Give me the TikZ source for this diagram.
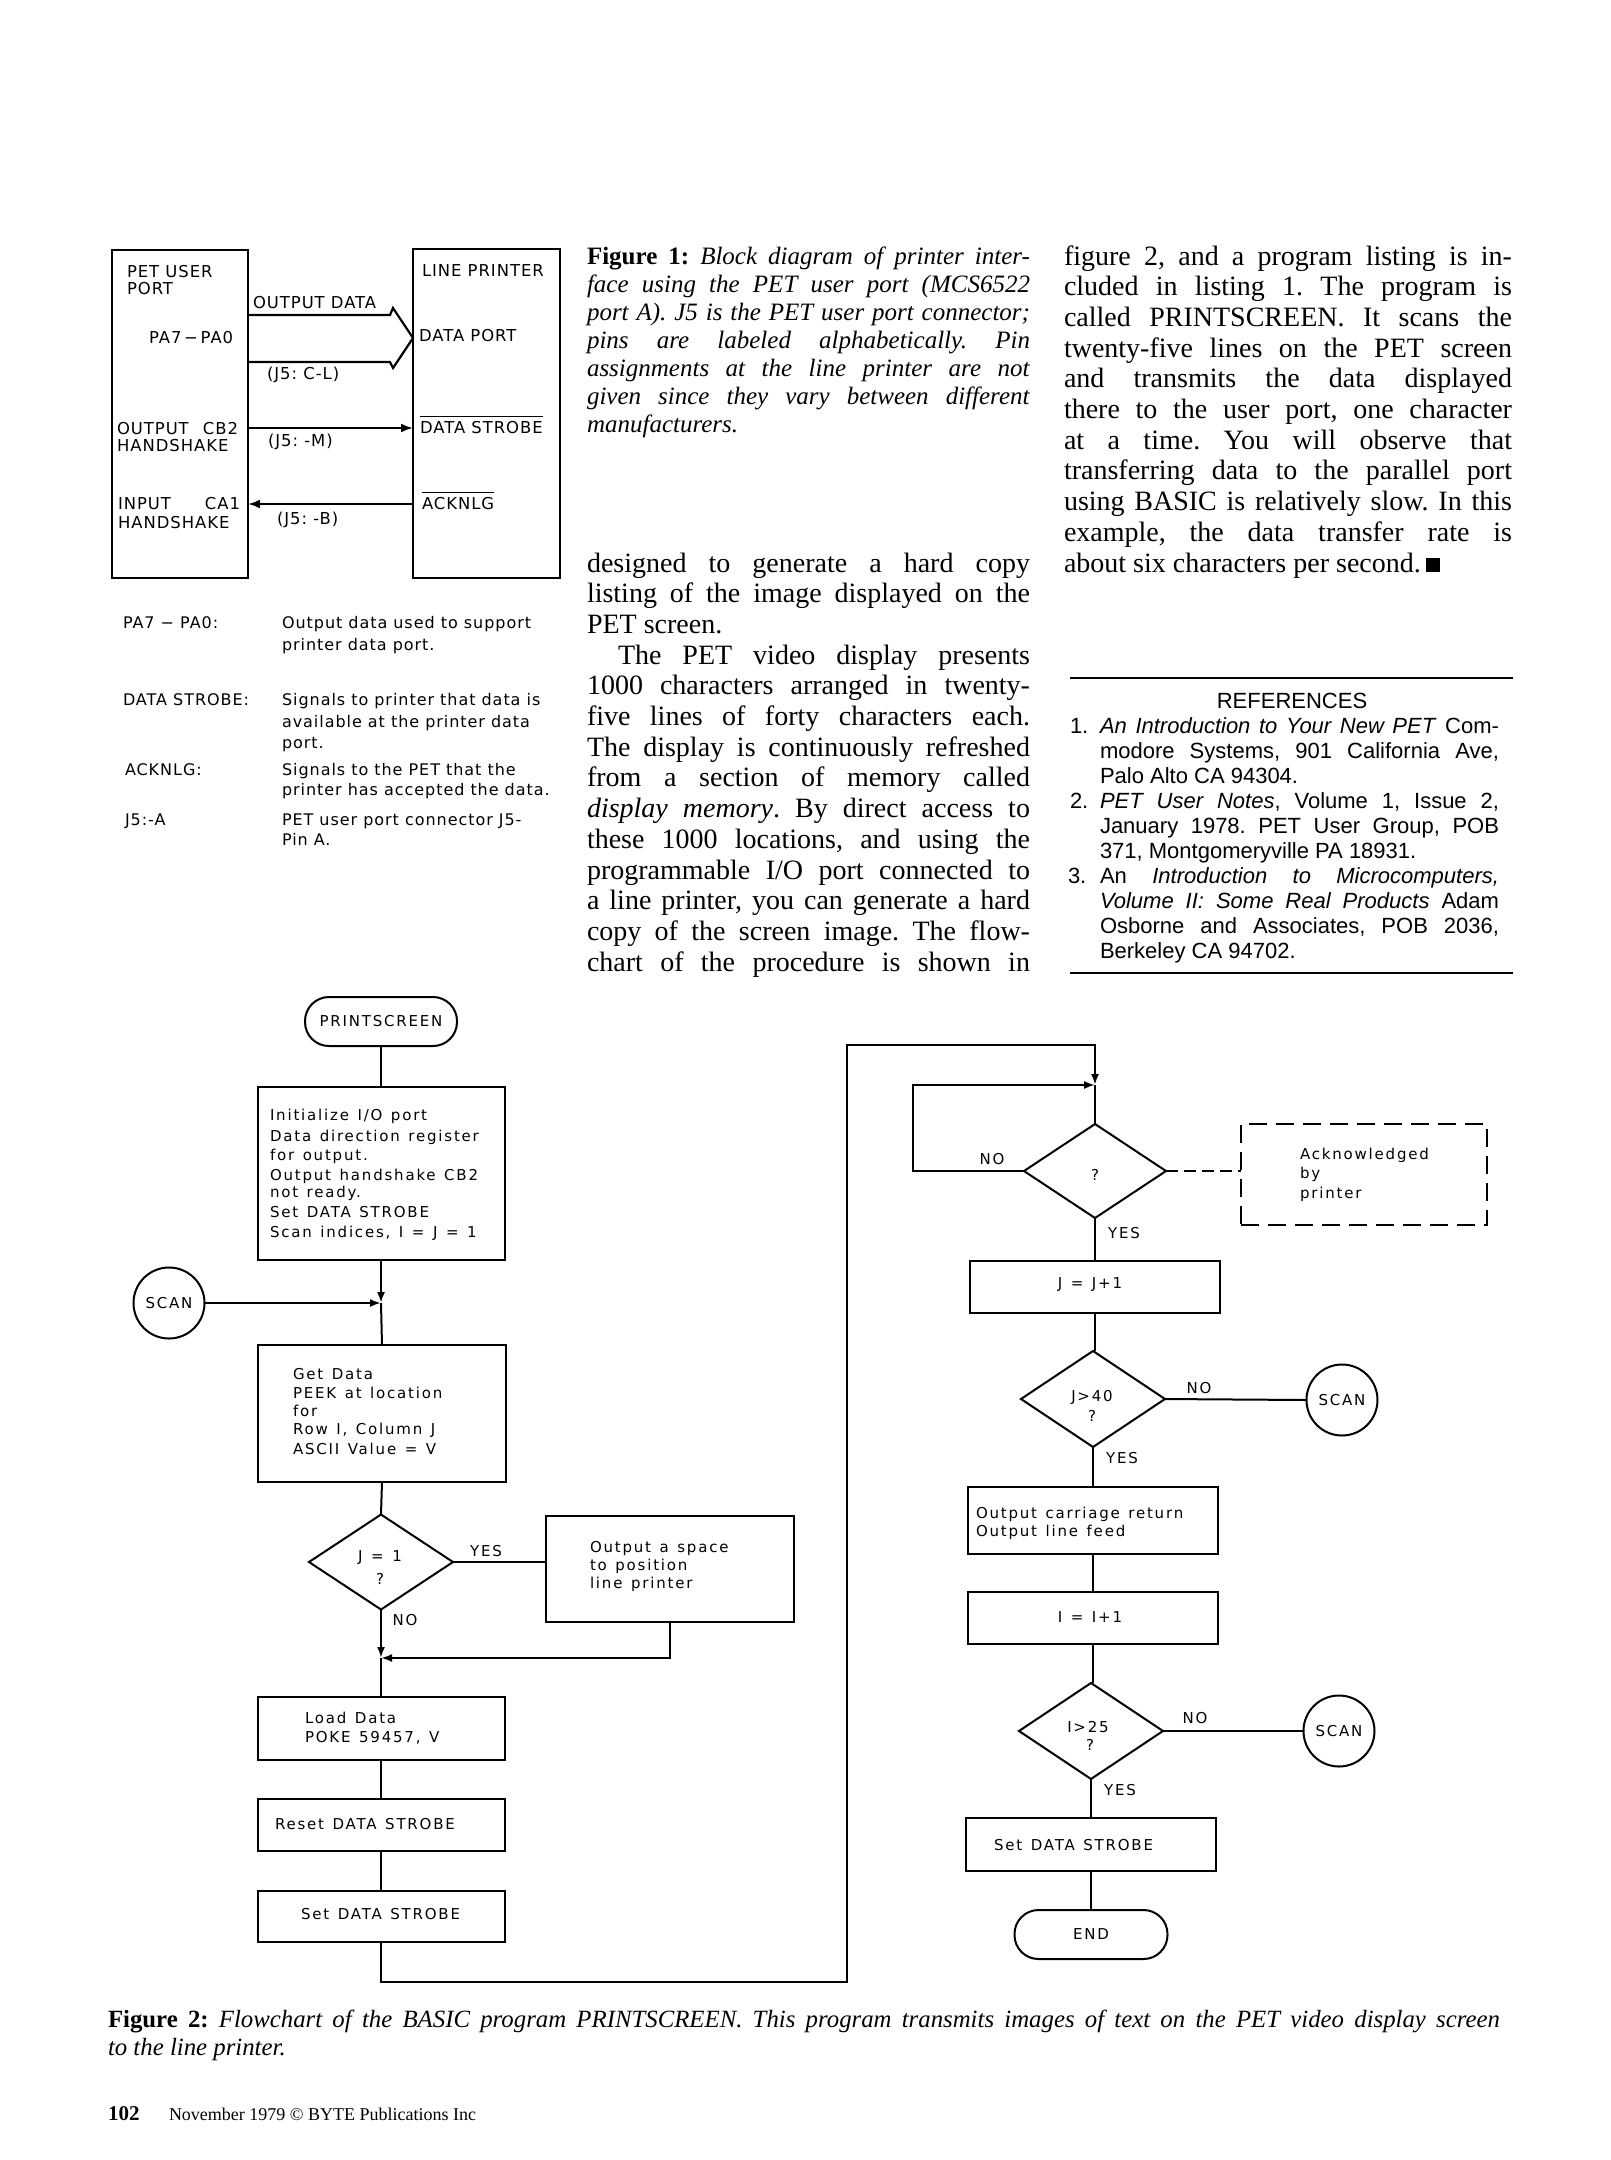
\documentclass[tikz,border=0pt]{standalone}
\usepackage{fontspec}
\setmainfont{Liberation Serif}
\newfontfamily\lettA[LetterSpace=6]{DejaVu Sans}
\newfontfamily\lettB[LetterSpace=12,WordSpace=1.3]{DejaVu Sans}
\newfontfamily\refsf{Liberation Sans}
\usetikzlibrary{shapes.geometric,arrows.meta}
\newcommand{\figfont}{\lettA\fontsize{8.2}{10}\selectfont}
\newcommand{\legfont}{\lettA\fontsize{8}{10}\selectfont}
\newcommand{\flfont}{\lettB\fontsize{7.5}{9}\selectfont}
\newcommand{\bodyfont}{\rmfamily\fontsize{14}{17}\selectfont}
\newcommand{\capfont}{\rmfamily\fontsize{12.5}{15}\selectfont}
\newcommand{\reffont}{\refsf\fontsize{11}{13}\selectfont}
\newcommand{\jmid}[1]{\makebox[221.5pt][s]{#1}}
\newcommand{\jind}[1]{\makebox[206pt][s]{#1}}
\newcommand{\jrt}[1]{\makebox[224pt][s]{#1}}
\newcommand{\jref}[1]{\makebox[199.5pt][s]{#1}}
\frenchspacing
\begin{document}
\begin{tikzpicture}[x=0.5pt,y=-0.5pt,
  every node/.style={inner sep=0pt, outer sep=0pt},
  blk/.style={draw, line width=1.1pt, rectangle},
  fbox/.style={draw, line width=1pt, rectangle},
  term/.style={draw, line width=1pt, rectangle, rounded corners=12pt, font=\flfont},
  dia/.style={draw, line width=1pt, diamond},
  conn/.style={draw, line width=1pt, circle, minimum size=35.5pt, font=\flfont},
  ft/.style={anchor=base west, font=\flfont},
  fc/.style={anchor=center, font=\flfont},
  gt/.style={anchor=base west, font=\figfont},
  legt/.style={anchor=base west, font=\legfont},
  bt/.style={anchor=base west, font=\bodyfont},
  ct/.style={anchor=base west, font=\capfont},
  rt/.style={anchor=base west, font=\reffont},
  arr/.style={line width=1pt, -{Latex[length=5.5pt,width=4pt]}},
  arrA/.style={line width=1.1pt, -{Latex[length=6pt,width=4.5pt]}},
  rule/.style={line width=0.6pt}
]
\fill[white] (0,0) rectangle (1611,2160);
\useasboundingbox (0,0) rectangle (1611,2160);

%% ---------------- Figure 1 block diagram
\node[blk, minimum width=68pt, minimum height=164pt] (pet) at (180,414) {};
\node[blk, minimum width=73.5pt, minimum height=164.5pt] (lp) at (486.5,413.5) {};
\node[gt] (petA) at (127,277) {PET USER};
\node[gt] (petB) at (127,294) {PORT};
\node[gt] (od) at (253,308) {OUTPUT DATA};
\node[gt] (pa) at (149,343) {PA7\,−\,PA0};
\node[gt] (jcl) at (267,379) {(J5: C-L)};
\node[gt] (dp) at (419,341) {DATA PORT};
\node[gt] (lpl) at (422,276) {LINE PRINTER};
\node[gt] (cb2) at (117,434) {\makebox[60.5pt][s]{OUTPUT CB2}};
\node[gt] (hsA) at (117,451) {HANDSHAKE};
\node[gt] (jm) at (268,446) {(J5: -M)};
\node[gt] (ds) at (420,433) {DATA STROBE};
\node[gt] (ca1) at (118,509) {\makebox[61pt][s]{INPUT CA1}};
\node[gt] (hsB) at (118,528) {HANDSHAKE};
\node[gt] (jb) at (277,524) {(J5: -B)};
\node[gt] (ak) at (422,509) {ACKNLG};
\draw[line width=0.7pt] ([yshift=2.2pt]ds.north west) -- ([yshift=2.2pt]ds.north east);
\draw[line width=0.7pt] ([yshift=2.2pt]ak.north west) -- ([yshift=2.2pt]ak.north east);
\draw[line width=1.1pt] (pet.east |- 0,315) -- (390,315) -- (393,308) -- (lp.west |- 0,338)
   -- (393,368) -- (390,362) -- (pet.east |- 0,362);
\draw[arrA] (pet.east |- 0,428) -- (lp.west |- 0,428);
\draw[arrA] (lp.west |- 0,504) -- (pet.east |- 0,504);

%% legend
\node[legt] (lgA) at (123,628.5) {PA7 − PA0:};
\node[legt] (lgA1) at (282,628.5) {Output data used to support};
\node[legt] (lgA2) at (282,650.5) {printer data port.};
\node[legt] (lgB) at (123,705.5) {DATA STROBE:};
\node[legt] (lgB1) at (282,705.5) {Signals to printer that data is};
\node[legt] (lgB2) at (282,727) {available at the printer data};
\node[legt] (lgB3) at (282,748.5) {port.};
\node[legt] (lgC) at (125,775.5) {ACKNLG:};
\node[legt] (lgC1) at (282,775.5) {Signals to the PET that the};
\node[legt] (lgC2) at (282,795.5) {printer has accepted the data.};
\node[legt] (lgD) at (125,825.5) {J5:-A};
\node[legt] (lgD1) at (282,825.5) {PET user port connector J5-};
\node[legt] (lgD2) at (282,845.5) {Pin A.};

%% ---------------- Figure 1 caption
\node[ct] (cap1) at (587,264) {\jmid{\textbf{Figure 1:} \textit{Block diagram of printer inter-}}};
\node[ct] (cap2) at (587,292) {\jmid{\textit{face using the PET user port (MCS6522}}};
\node[ct] (cap3) at (587,320) {\jmid{\textit{port A). J5 is the PET user port connector;}}};
\node[ct] (cap4) at (587,348) {\jmid{\textit{pins are labeled alphabetically. Pin}}};
\node[ct] (cap5) at (587,376) {\jmid{\textit{assignments at the line printer are not}}};
\node[ct] (cap6) at (587,404) {\jmid{\textit{given since they vary between different}}};
\node[ct] (cap7) at (587,432) {\textit{manufacturers.}};

%% ---------------- middle column body
\node[bt] (m0) at (587,572) {\jmid{designed to generate a hard copy}};
\node[bt] (m1) at (587,602.7) {\jmid{listing of the image displayed on the}};
\node[bt] (m2) at (587,633.4) {PET screen.};
\node[bt] (m3) at (618,664.1) {\jind{The PET video display presents}};
\node[bt] (m4) at (587,694.8) {\jmid{1000 characters arranged in twenty-}};
\node[bt] (m5) at (587,725.5) {\jmid{five lines of forty characters each.}};
\node[bt] (m6) at (587,756.2) {\jmid{The display is continuously refreshed}};
\node[bt] (m7) at (587,786.9) {\jmid{from a section of memory called}};
\node[bt] (m8) at (587,817.6) {\jmid{\textit{display memory}. By direct access to}};
\node[bt] (m9) at (587,848.3) {\jmid{these 1000 locations, and using the}};
\node[bt] (m10) at (587,879) {\jmid{programmable I/O port connected to}};
\node[bt] (m11) at (587,909.7) {\jmid{a line printer, you can generate a hard}};
\node[bt] (m12) at (587,940.4) {\jmid{copy of the screen image. The flow-}};
\node[bt] (m13) at (587,971.1) {\jmid{chart of the procedure is shown in}};

%% ---------------- right column body
\node[bt] (r0) at (1064,265) {\jrt{figure 2, and a program listing is in-}};
\node[bt] (r1) at (1064,295.7) {\jrt{cluded in listing 1. The program is}};
\node[bt] (r2) at (1064,326.4) {\jrt{called PRINTSCREEN. It scans the}};
\node[bt] (r3) at (1064,357.1) {\jrt{twenty-five lines on the PET screen}};
\node[bt] (r4) at (1064,387.8) {\jrt{and transmits the data displayed}};
\node[bt] (r5) at (1064,418.5) {\jrt{there to the user port, one character}};
\node[bt] (r6) at (1064,449.2) {\jrt{at a time. You will observe that}};
\node[bt] (r7) at (1064,479.9) {\jrt{transferring data to the parallel port}};
\node[bt] (r8) at (1064,510.6) {\jrt{using BASIC is relatively slow. In this}};
\node[bt] (r9) at (1064,541.3) {\jrt{example, the data transfer rate is}};
\node[bt] (r10) at (1064,572) {about six characters per second.\,\rule{7pt}{7pt}};

%% ---------------- references
\draw[rule] (1070,678) -- (1513,678);
\draw[rule] (1070,973) -- (1513,973);
\node[anchor=base, font=\reffont] (refh) at (1292,708) {REFERENCES};
\node[rt] (n1) at (1070,733) {1.};
\node[rt] (ra) at (1100,733) {\jref{\textit{An Introduction to Your New PET} Com-}};
\node[rt] (rb) at (1100,758.1) {\jref{modore Systems, 901 California Ave,}};
\node[rt] (rc) at (1100,783.2) {Palo Alto CA 94304.};
\node[rt] (n2) at (1070,808.3) {2.};
\node[rt] (rd) at (1100,808.3) {\jref{\textit{PET User Notes}, Volume 1, Issue 2,}};
\node[rt] (re) at (1100,833.4) {\jref{January 1978. PET User Group, POB}};
\node[rt] (rf) at (1100,858.5) {371, Montgomeryville PA 18931.};
\node[rt] (n3) at (1068,883.6) {3.};
\node[rt] (rg) at (1100,883.6) {\jref{An \textit{Introduction to Microcomputers,}}};
\node[rt] (rh) at (1100,908.7) {\jref{\textit{Volume II: Some Real Products} Adam}};
\node[rt] (ri) at (1100,933.8) {\jref{Osborne and Associates, POB 2036,}};
\node[rt] (rj) at (1100,958.9) {Berkeley CA 94702.};

%% ---------------- Flowchart left
\node[term, minimum width=76pt, minimum height=24.5pt] (ps) at (381,1021.5) {PRINTSCREEN};
\node[fbox, minimum width=123.5pt, minimum height=86.5pt] (init) at (381,1173.5) {};
\node[ft] (iA) at (270,1120) {Initialize I/O port};
\node[ft] (iB) at (270,1141) {Data direction register};
\node[ft] (iC) at (270,1160) {for output.};
\node[ft] (iD) at (270,1180) {Output handshake CB2};
\node[ft] (iE) at (270,1197) {not ready.};
\node[ft] (iF) at (270,1217) {Set DATA STROBE};
\node[ft] (iG) at (270,1237) {Scan indices, I = J = 1};
\node[conn] (scanL) at (169,1303) {SCAN};
\node[fbox, minimum width=124pt, minimum height=68.5pt] (get) at (382,1413.5) {};
\node[ft] (gA) at (293,1379) {Get Data};
\node[ft] (gB) at (293,1398) {PEEK at location};
\node[ft] (gC) at (293,1416) {for};
\node[ft] (gD) at (293,1434) {Row I, Column J};
\node[ft] (gE) at (293,1454) {ASCII Value = V};
\node[dia, minimum width=72pt, minimum height=47.5pt] (d1) at (381,1562) {};
\node[fc] (d1a) at (380,1558) {J = 1};
\node[fc] (d1b) at (380,1579) {?};
\node[fc] (yes1) at (486,1551) {YES};
\node[fc] (no1) at (405,1620) {NO};
\node[fbox, minimum width=124pt, minimum height=53pt] (sp) at (670,1569) {};
\node[ft] (sA) at (590,1552) {Output a space};
\node[ft] (sB) at (590,1570) {to position};
\node[ft] (sC) at (590,1588) {line printer};
\node[fbox, minimum width=123.5pt, minimum height=31.5pt] (load) at (381,1728.5) {};
\node[ft] (lA) at (305,1723) {Load Data};
\node[ft] (lB) at (305,1742) {POKE 59457, V};
\node[fbox, minimum width=123.5pt, minimum height=26pt] (reset) at (381,1825) {};
\node[ft] (rsA) at (275,1829) {Reset DATA STROBE};
\node[fbox, minimum width=123.5pt, minimum height=25.5pt] (setL) at (381,1916.5) {};
\node[ft] (stA) at (301,1919) {Set DATA STROBE};

\coordinate (j1) at (381,1303);
\coordinate (j2) at (381,1658);
\draw[line width=1pt] (ps.south) -- (init.north);
\draw[arr] (init.south) -- (j1);
\draw[arr] (scanL.east) -- (j1);
\draw[line width=1pt] (j1) -- (get.north);
\draw[line width=1pt] (get.south) -- (d1.north);
\draw[line width=1pt] (d1.east) -- (d1.east -| sp.west);
\draw[arr] (d1.south) -- (j2);
\draw[arr] (sp.south) |- (j2);
\draw[line width=1pt] (j2) -- (load.north);
\draw[line width=1pt] (load.south) -- (reset.north);
\draw[line width=1pt] (reset.south) -- (setL.north);

%% ---------------- Flowchart right
\coordinate (lb) at (847,1982);
\coordinate (lt) at (847,1045);
\coordinate (jn) at (1095,1085);
\coordinate (lpc) at (913,1085);
\node[dia, minimum width=71pt, minimum height=47pt] (q) at (1095,1171) {};
\node[fc] (qa) at (1095,1175) {?};
\node[fc] (no2) at (992,1159) {NO};
\node[draw, line width=1pt, dash pattern=on 9pt off 4.5pt, minimum width=123pt, minimum height=50.5pt] (ack) at (1364,1174.5) {};
\node[ft] (aA) at (1300,1159) {Acknowledged};
\node[ft] (aB) at (1300,1178) {by};
\node[ft] (aC) at (1300,1198) {printer};
\node[fc] (yes2) at (1124,1233) {YES};
\node[fbox, minimum width=125pt, minimum height=26pt] (jj) at (1095,1287) {};
\node[fc] (jjt) at (1090,1285) {J = J+1};
\node[dia, minimum width=72pt, minimum height=48pt] (d40) at (1093,1399) {};
\node[fc] (d40a) at (1092,1397) {J>40};
\node[fc] (d40b) at (1092,1416) {?};
\node[fc] (no3) at (1199,1388) {NO};
\node[conn] (scanR1) at (1342,1400) {SCAN};
\node[fc] (yes3) at (1122,1458) {YES};
\node[fbox, minimum width=125pt, minimum height=33.5pt] (outp) at (1093,1520.5) {};
\node[ft] (oA) at (976,1518) {Output carriage return};
\node[ft] (oB) at (976,1536) {Output line feed};
\node[fbox, minimum width=125pt, minimum height=26pt] (ii) at (1093,1618) {};
\node[fc] (iit) at (1090,1617) {I = I+1};
\node[dia, minimum width=72pt, minimum height=48pt] (d25) at (1091,1731) {};
\node[fc] (d25a) at (1088,1727) {I>25};
\node[fc] (d25b) at (1090,1745) {?};
\node[fc] (no4) at (1195,1718) {NO};
\node[conn] (scanR2) at (1339,1731) {SCAN};
\node[fc] (yes4) at (1120,1790) {YES};
\node[fbox, minimum width=125pt, minimum height=26.5pt] (setR) at (1091,1844.5) {};
\node[ft] (srA) at (994,1850) {Set DATA STROBE};
\node[term, minimum width=76.5pt, minimum height=24.5pt] (endT) at (1091,1934.5) {END};

\draw[arr] (setL.south) |- (lb) -- (lt) -| (jn);
\draw[arr] (q.west) -| (lpc) -- (jn);
\draw[line width=1pt] (jn) -- (q.north);
\draw[line width=1pt, dash pattern=on 6pt off 3pt] (q.east) -- (q.east -| ack.west);
\draw[line width=1pt] (q.south) -- (q.south |- jj.north);
\draw[line width=1pt] (jj.south) -- (jj.south |- d40.north);
\draw[line width=1pt] (d40.east) -- (scanR1.west);
\draw[line width=1pt] (d40.south) -- (d40.south |- outp.north);
\draw[line width=1pt] (outp.south) -- (outp.south |- ii.north);
\draw[line width=1pt] (ii.south) -- (ii.south |- d25.north);
\draw[line width=1pt] (d25.east) -- (scanR2.west);
\draw[line width=1pt] (d25.south) -- (d25.south |- setR.north);
\draw[line width=1pt] (setR.south) -- (setR.south |- endT.north);

%% ---------------- Figure 2 caption and footer
\node[anchor=base west, font=\rmfamily\fontsize{12.4}{15}\selectfont] (f2a) at (108,2027)
  {\makebox[696pt][s]{\textbf{Figure 2:} \textit{Flowchart of the BASIC program PRINTSCREEN. This program transmits images of text on the PET video display screen}}};
\node[anchor=base west, font=\rmfamily\fontsize{12.4}{15}\selectfont] (f2b) at (108,2055) {\textit{to the line printer.}};
\node[anchor=base west, font=\rmfamily\fontsize{10.5}{12}\selectfont] (pg) at (108,2120) {\textbf{102}};
\node[anchor=base west, font=\rmfamily\fontsize{9}{11}\selectfont] (ft1) at (169,2120) {November 1979 © BYTE Publications Inc};
\end{tikzpicture}
\end{document}
